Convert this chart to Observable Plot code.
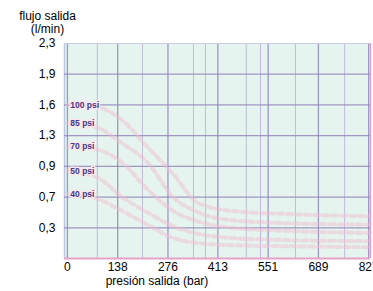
<!DOCTYPE html>
<html>
<head>
<meta charset="utf-8">
<script src="https://cdn.jsdelivr.net/npm/d3@7"></script>
<script src="https://cdn.jsdelivr.net/npm/@observablehq/plot@0.6"></script>
<style>
  html, body { margin: 0; padding: 0; background: white; overflow: hidden; }
</style>
</head>
<body>
<div id="chart"></div>
<script>
// Axis ticks
const xTicks = [0, 138, 276, 413, 551, 689, 827];
const yTicks = [0.3, 0.7, 0.9, 1.3, 1.6, 1.9, 2.3];
// secondary vertical grid lines (bar)
const xMinorGrid = [82, 206, 346, 379, 491, 530, 626, 761];

// Curves: outlet pressure (bar) vs outlet flow (l/min), per inlet pressure
const presion = [0, 80, 150, 220, 290, 360, 450, 600, 827];
const flujo100 = [1.6, 1.58, 1.45, 1.15, 0.85, 0.62, 0.52, 0.48, 0.45];
const flujo85  = [1.42, 1.38, 1.2, 0.95, 0.7, 0.5, 0.4, 0.36, 0.34];
const flujo70  = [1.16, 1.12, 0.95, 0.75, 0.52, 0.38, 0.3, 0.27, 0.25];
const flujo50  = [0.87, 0.83, 0.7, 0.5, 0.32, 0.24, 0.2, 0.18, 0.17];
const flujo40  = [0.72, 0.68, 0.52, 0.34, 0.2, 0.15, 0.13, 0.12, 0.11];
const seriesLabels = ["100 psi", "85 psi", "70 psi", "50 psi", "40 psi"];
const seriesValues = [flujo100, flujo85, flujo70, flujo50, flujo40];

const yTitle = ["flujo salida", "(l/min)"];
const xTitle = "presión salida (bar)";

const curves = seriesLabels.flatMap((s, k) =>
  presion.map((p, i) => ({s, p, f: seriesValues[k][i]})));
const labels = seriesLabels.map((s, k) => ({s, p: 8, f: seriesValues[k][0]}));

const W = 373, H = 291, mt = 43, mb = 33;
const yDomain = [0, ...yTicks];
const yBottom = H - mb, yTop = mt;
const yRange = yDomain.map((_, i) => yBottom - i * (yBottom - yTop) / (yDomain.length - 1));

const fmt = d => String(d).replace(".", ",");

const chart = Plot.plot({
  width: W,
  height: H,
  marginTop: mt,
  marginBottom: mb,
  marginLeft: 64,
  marginRight: 3,
  style: {fontFamily: "'Liberation Sans', Arial, sans-serif", fontSize: "12px", color: "black", background: "white"},
  x: {domain: [-8, 832], ticks: xTicks, tickSize: 0, tickPadding: 4, label: null},
  y: {type: "linear", domain: yDomain, range: yRange, ticks: yTicks, tickFormat: fmt, tickSize: 0, tickPadding: 9, label: null},
  marks: [
    Plot.frame({fill: "#e5f4ee", stroke: "none"}),
    Plot.ruleX(xMinorGrid, {stroke: "#c3bbdc", strokeWidth: 1}),
    Plot.ruleX(xTicks, {stroke: "#9486bb", strokeWidth: 1.3, strokeOpacity: 0.85}),
    Plot.ruleX([-8], {stroke: "#b9c9e0", strokeWidth: 1.5}),
    Plot.ruleY(yTicks.slice(0, -1), {stroke: "#9486bb", strokeWidth: 1.3, strokeOpacity: 0.85}),
    Plot.ruleY([2.3], {stroke: "#cdcae4", strokeWidth: 1}),
    Plot.line(curves, {x: "p", y: "f", z: "s", stroke: "#f2bdd2", strokeWidth: 4, strokeDasharray: "5,4", strokeOpacity: 0.5, curve: "monotone-x"}),
    Plot.ruleY([0], {stroke: "#e7a2c8", strokeWidth: 2}),
    Plot.ruleX([832], {stroke: "#d8a6cc", strokeWidth: 1.5}),
    Plot.text(labels, {x: "p", y: "f", text: "s", textAnchor: "start", fill: "#44397f", stroke: "#fbe6ef", strokeWidth: 3, fontWeight: "bold", fontSize: 8.5}),
    Plot.text([yTitle[0]], {text: d => d, frameAnchor: "top-left", textAnchor: "middle", lineAnchor: "middle", dx: -17, dy: -27, fontSize: 12}),
    Plot.text([yTitle[1]], {text: d => d, frameAnchor: "top-left", textAnchor: "middle", lineAnchor: "middle", dx: -17, dy: -14, fontSize: 12}),
    Plot.text([xTitle], {text: d => d, frameAnchor: "bottom-left", textAnchor: "middle", lineAnchor: "middle", dx: 92.5, dy: 23, fontSize: 12})
  ]
});
document.getElementById("chart").appendChild(chart);
</script>
</body>
</html>
